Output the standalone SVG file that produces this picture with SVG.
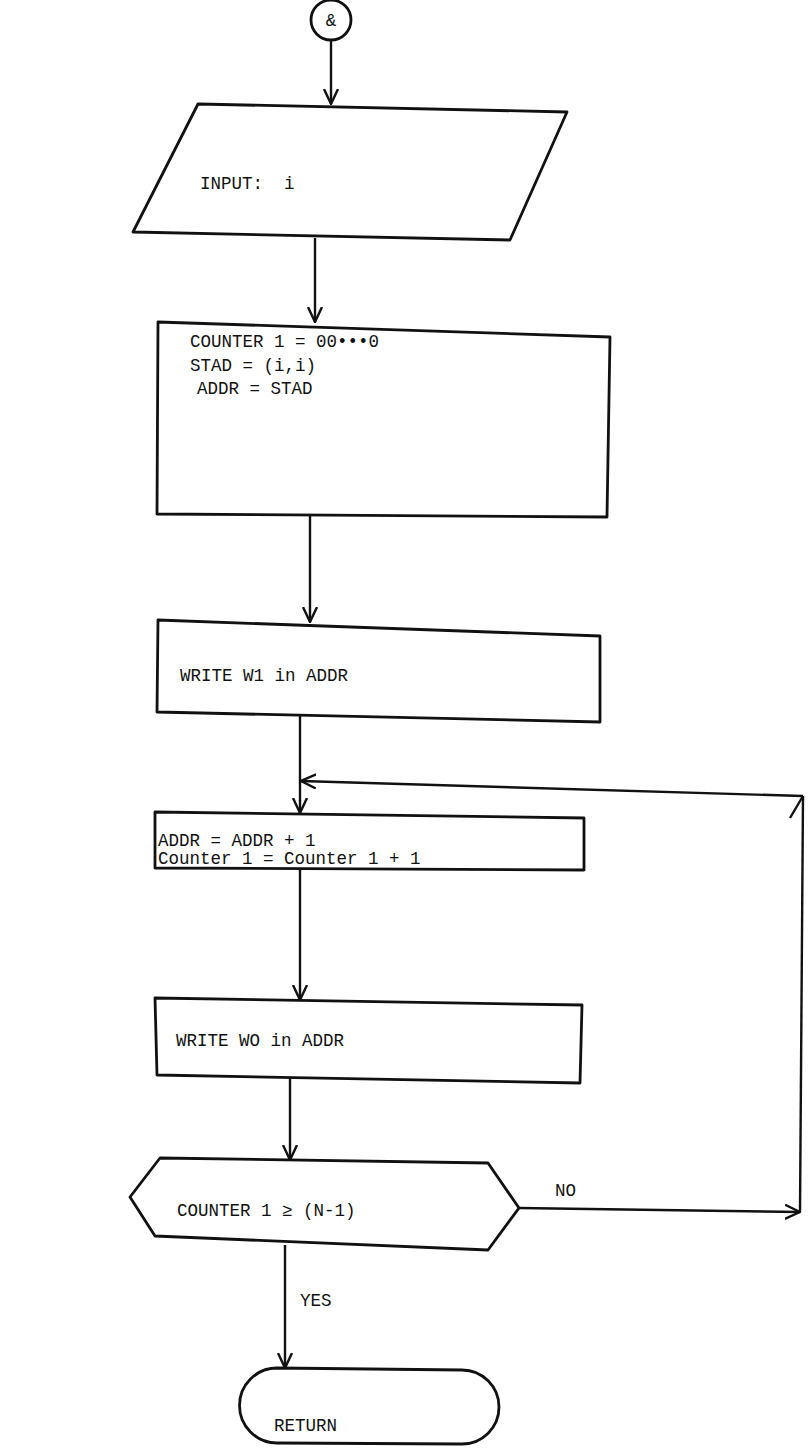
<svg xmlns="http://www.w3.org/2000/svg" width="808" height="1454" viewBox="0 0 808 1454">
<style>
.s{fill:none;stroke:#111;stroke-width:2.8;stroke-linejoin:round}
.c{fill:none;stroke:#111;stroke-width:2.4}
.t{font-family:"Liberation Mono","DejaVu Sans Mono",monospace;font-size:17.5px;fill:#111}
</style>
<defs>
<marker id="ah" viewBox="0 0 16 16" refX="15" refY="8" markerWidth="16" markerHeight="16" markerUnits="userSpaceOnUse" orient="auto">
<path d="M0,1 L15,8 L0,15" fill="none" stroke="#111" stroke-width="2.4"/>
</marker>
</defs>
<rect width="808" height="1454" fill="#fff"/>
<g id="start">
<circle class="s" cx="331" cy="20" r="20"/>
<text class="t" x="331" y="26" text-anchor="middle">&amp;</text>
</g>
<g id="input">
<path class="s" d="M198,104 L567,112 L510,240 L133,232 Z"/>
<text class="t" x="200" y="189" xml:space="preserve">INPUT:  i</text>
</g>
<g id="init">
<path class="s" d="M158,322 L610,337 L607,517 L157,514 Z"/>
<text class="t" x="190" y="347">COUNTER 1 = 00•••0</text>
<text class="t" x="190" y="371">STAD = (i,i)</text>
<text class="t" x="197" y="394">ADDR = STAD</text>
</g>
<g id="write1">
<path class="s" d="M158,620 L600,636 L600,722 L157,712 Z"/>
<text class="t" x="180" y="681">WRITE W1 in ADDR</text>
</g>
<g id="incr">
<path class="s" d="M155,812 L584,818 L584,870 L155,868 Z"/>
<text class="t" x="158" y="846">ADDR = ADDR + 1</text>
<text class="t" x="158" y="864">Counter 1 = Counter 1 + 1</text>
</g>
<g id="write0">
<path class="s" d="M155,998 L582,1005 L580,1083 L157,1075 Z"/>
<text class="t" x="176" y="1046">WRITE WO in ADDR</text>
</g>
<g id="decision">
<path class="s" d="M160,1158 L488,1163 L519,1208 L488,1250 L155,1236 L130,1197 Z"/>
<text class="t" x="177" y="1216">COUNTER 1 ≥ (N-1)</text>
</g>
<g id="return">
<path class="s" d="M277,1368 L462,1370 A37,37 0 0 1 462,1444 L277,1443 A37.5,37.5 0 0 1 277,1368 Z"/>
<text class="t" x="274" y="1431">RETURN</text>
</g>
<g id="connectors">
<line class="c" x1="331" y1="40" x2="331" y2="104" marker-end="url(#ah)"/>
<line class="c" x1="315" y1="238" x2="315" y2="322" marker-end="url(#ah)"/>
<line class="c" x1="310" y1="515" x2="310" y2="622" marker-end="url(#ah)"/>
<line class="c" x1="300" y1="716" x2="300" y2="813" marker-end="url(#ah)"/>
<line class="c" x1="300" y1="869" x2="300" y2="1000" marker-end="url(#ah)"/>
<line class="c" x1="290" y1="1078" x2="290" y2="1160" marker-end="url(#ah)"/>
<line class="c" x1="285" y1="1245" x2="285" y2="1368" marker-end="url(#ah)"/>
<line class="c" x1="519" y1="1208" x2="800" y2="1212" marker-end="url(#ah)"/>
<line class="c" x1="800" y1="1212" x2="803" y2="796"/>
<line class="c" x1="790" y1="818" x2="803" y2="796"/>
<line class="c" x1="803" y1="796" x2="301" y2="781" marker-end="url(#ah)"/>
<text class="t" x="555" y="1196">NO</text>
<text class="t" x="300" y="1306">YES</text>
</g>
</svg>
